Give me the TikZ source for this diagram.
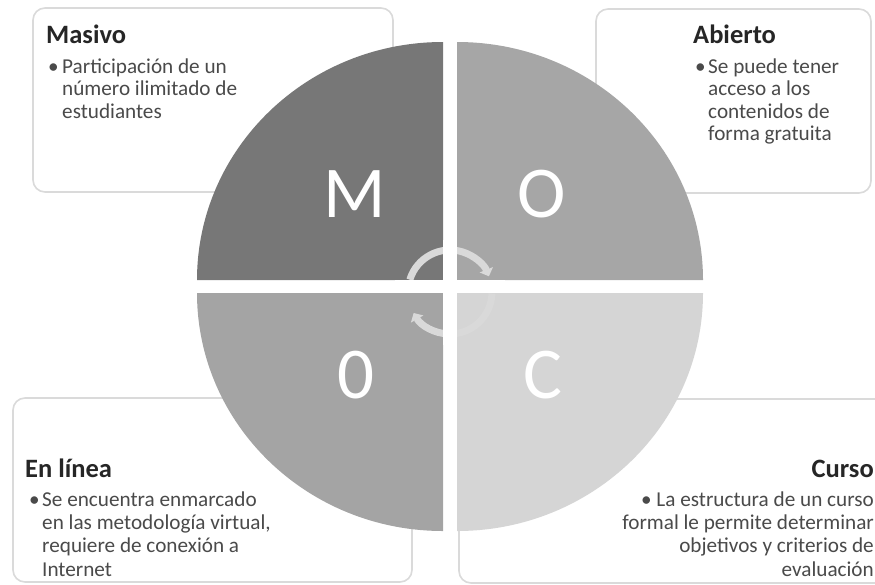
\documentclass[tikz,border=0pt]{standalone}
\usepackage{fontspec}
\setmainfont{Carlito}
\usetikzlibrary{arrows.meta}
\definecolor{qTL}{HTML}{777777}
\definecolor{qTR}{HTML}{A6A6A6}
\definecolor{qBL}{HTML}{A4A4A4}
\definecolor{qBR}{HTML}{D5D5D5}
\definecolor{boxline}{HTML}{DADADA}
\definecolor{arcgray}{HTML}{D9D9D9}
\definecolor{titlecol}{HTML}{262626}
\definecolor{bodycol}{HTML}{4A4A4A}
\newcommand{\linesL}[1]{\begin{tabular}[t]{@{}l@{}}#1\end{tabular}}
\newcommand{\linesR}[1]{\begin{tabular}[t]{@{}r@{}}#1\end{tabular}}
\begin{document}
\begin{tikzpicture}[x=1pt,y=-1pt,
  infobox/.style={draw=boxline,line width=1.6pt,fill=white,rounded corners=12pt},
  titletext/.style={inner sep=0pt,font=\fontsize{26.5}{30}\selectfont\bfseries,text=titlecol},
  bodytext/.style={inner sep=0pt,font=\fontsize{21.2}{22.6}\selectfont,text=bodycol},
  bodytextlow/.style={inner sep=0pt,font=\fontsize{21.2}{23.4}\selectfont,text=bodycol},
  bigletter/.style={inner sep=0pt,font=\fontsize{73}{73}\selectfont,text=white},
  cyclearc/.style={draw=arcgray,line width=7pt,-{Triangle[length=7pt,width=14pt]}}]
\useasboundingbox (0,0) rectangle (875,584);
\clip (0,0) rectangle (875,584);
% boxes
\path[infobox] (33,8) rectangle (393,192);
\path[infobox] (596,9) rectangle (871,193);
\path[infobox] (13,398) rectangle (412,582);
\path[infobox] (459,399) rectangle (900,583);
% quadrants
\fill[qTL] (443,280) -- (197,280) arc[start angle=180,end angle=270,x radius=246,y radius=238] -- cycle;
\fill[qTR] (457,280) -- (457,42) arc[start angle=270,end angle=360,x radius=246,y radius=238] -- cycle;
\fill[qBR] (457,293) -- (703,293) arc[start angle=0,end angle=90,x radius=246,y radius=238] -- cycle;
\fill[qBL] (443,293) -- (443,531) arc[start angle=90,end angle=180,x radius=246,y radius=238] -- cycle;
% cycle arrows
\coordinate (cc) at (450,292);
\draw[cyclearc] ([shift={(-163:42)}]cc) arc[start angle=-163,end angle=-22,radius=42];
\draw[cyclearc] ([shift={(2:42)}]cc) arc[start angle=2,end angle=150,radius=42];
\fill[white] (443,240) rectangle (457,345);
\fill[white] (395,280) rectangle (505,293);
% big letters
\node[bigletter] (m) at (355,194) {M};
\node[bigletter] (o1) at (542,194) {O};
\node[bigletter] (o2) at (356,375) {0};
\node[bigletter] (c) at (543,375) {C};
% texts
\node[titletext,anchor=base west] (t1) at (46,43) {Masivo};
\node[bodytext,anchor=base west] (b1) at (48,73) {•};
\node[bodytext,anchor=base west] (x1) at (62,73) {\linesL{Participación de un\\número ilimitado de\\estudiantes}};
\node[titletext,anchor=base west] (t2) at (693,43) {Abierto};
\node[bodytext,anchor=base west] (b2) at (695,73) {•};
\node[bodytext,anchor=base west] (x2) at (708,73) {\linesL{Se puede tener\\acceso a los\\contenidos de\\forma gratuita}};
\node[titletext,anchor=base west] (t3) at (25,477) {En línea};
\node[bodytextlow,anchor=base west] (b3) at (29,506) {•};
\node[bodytextlow,anchor=base west] (x3) at (42,506) {\linesL{Se encuentra enmarcado\\en las metodología virtual,\\requiere de conexión a\\Internet}};
\node[titletext,anchor=base east] (t4) at (874,477) {Curso};
\node[bodytextlow,anchor=base east] (x4) at (874,506) {\linesR{• La estructura de un curso\\formal le permite determinar\\objetivos y criterios de\\evaluación}};
\end{tikzpicture}
\end{document}
